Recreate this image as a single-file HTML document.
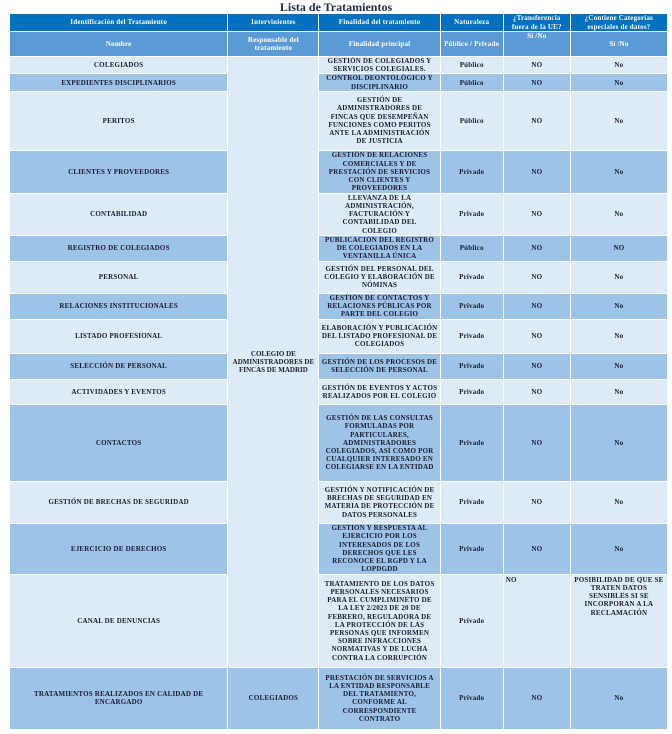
<!DOCTYPE html>
<html><head><meta charset="utf-8"><style>
body{margin:0;background:#fff;width:672px;height:734px;overflow:hidden;font-family:"Liberation Serif",serif;}
.t{position:absolute;left:0;top:0;width:672px;text-align:center;font-weight:bold;font-size:12px;color:#1f2a44;line-height:14px;}
table{position:absolute;left:9px;top:13px;border-collapse:collapse;table-layout:fixed;width:659px;}
td{border:1.5px solid #fff;text-align:center;vertical-align:middle;font-weight:bold;font-size:7px;line-height:8.2px;letter-spacing:0.2px;color:#1a1a33;padding:0 3px;overflow:hidden;}
.h1 td{background:#0070c0;color:#fff;padding:0 2px;}
.h2 td{background:#5b9bd5;color:#fff;padding:0 2px;}
.l td{background:#ddebf7;}
.m td{background:#9dc3e6;}
td.li{background:#ddebf7 !important;}
</style></head><body>
<div class="t">Lista de Tratamientos</div>
<table>
<colgroup><col style="width:218px"><col style="width:91px"><col style="width:121px"><col style="width:63px"><col style="width:67px"><col style="width:97px"></colgroup>
<tr class="h1" style="height:18px"><td>Identificación del Tratamiento</td><td>Intervinientes</td><td>Finalidad del tratamiento</td><td>Naturaleza</td><td>¿Transferencia fuera de la UE?</td><td>¿Contiene Categorías especiales de datos?</td></tr>
<tr class="h2" style="height:25px"><td>Nombre</td><td style="padding:0 8px">Responsable del tratamiento</td><td>Finalidad principal</td><td>Público / Privado</td><td style="vertical-align:top">Sí /No</td><td>Sí /No</td></tr>
<tr class="l" style="height:17px"><td>COLEGIADOS</td><td class="li" rowspan="15" style="padding:0 1px;letter-spacing:0">COLEGIO DE ADMINISTRADORES DE FINCAS DE MADRID</td><td style="padding:0 2px">GESTIÓN DE COLEGIADOS Y SERVICIOS COLEGIALES.</td><td>Público</td><td>NO</td><td>No</td></tr>
<tr class="m" style="height:17px"><td>EXPEDIENTES DISCIPLINARIOS</td><td style="padding:0 6px">CONTROL DEONTOLÓGICO Y DISCIPLINARIO</td><td>Público</td><td>NO</td><td>No</td></tr>
<tr class="l" style="height:59px"><td>PERITOS</td><td style="padding:0 6px">GESTIÓN DE ADMINISTRADORES DE FINCAS QUE DESEMPEÑAN FUNCIONES COMO PERITOS ANTE LA ADMINISTRACIÓN DE JUSTICIA</td><td>Público</td><td>NO</td><td>No</td></tr>
<tr class="m" style="height:43px"><td>CLIENTES Y PROVEEDORES</td><td style="padding:0 5px">GESTIÓN DE RELACIONES COMERCIALES Y DE PRESTACIÓN DE SERVICIOS CON CLIENTES Y PROVEEDORES</td><td>Privado</td><td>NO</td><td>No</td></tr>
<tr class="l" style="height:42px"><td>CONTABILIDAD</td><td style="padding:0 6px">LLEVANZA DE LA ADMINISTRACIÓN, FACTURACIÓN Y CONTABILIDAD DEL COLEGIO</td><td>Privado</td><td>NO</td><td>No</td></tr>
<tr class="m" style="height:26px"><td>REGISTRO DE COLEGIADOS</td><td style="padding:0 1px">PUBLICACIÓN DEL REGISTRO DE COLEGIADOS EN LA VENTANILLA ÚNICA</td><td>Público</td><td>NO</td><td>NO</td></tr>
<tr class="l" style="height:32px"><td>PERSONAL</td><td style="padding:0 1px">GESTIÓN DEL PERSONAL DEL COLEGIO Y ELABORACIÓN DE NÓMINAS</td><td>Privado</td><td>NO</td><td>No</td></tr>
<tr class="m" style="height:26px"><td>RELACIONES INSTITUCIONALES</td><td style="padding:0 1px">GESTIÓN DE CONTACTOS Y RELACIONES PÚBLICAS POR PARTE DEL COLEGIO</td><td>Privado</td><td>NO</td><td>No</td></tr>
<tr class="l" style="height:34px"><td>LISTADO PROFESIONAL</td><td style="padding:0 1px">ELABORACIÓN Y PUBLICACIÓN DEL LISTADO PROFESIONAL DE COLEGIADOS</td><td>Privado</td><td>NO</td><td>No</td></tr>
<tr class="m" style="height:26px"><td>SELECCIÓN DE PERSONAL</td><td style="padding:0 1px">GESTIÓN DE LOS PROCESOS DE SELECCIÓN DE PERSONAL</td><td>Privado</td><td>NO</td><td>No</td></tr>
<tr class="l" style="height:25px"><td>ACTIVIDADES Y EVENTOS</td><td style="padding:0 1px">GESTIÓN DE EVENTOS Y ACTOS REALIZADOS POR EL COLEGIO</td><td>Privado</td><td>NO</td><td>No</td></tr>
<tr class="m" style="height:77px"><td>CONTACTOS</td><td style="padding:0 6px">GESTIÓN DE LAS CONSULTAS FORMULADAS POR PARTICULARES, ADMINISTRADORES COLEGIADOS, ASÍ COMO POR CUALQUIER INTERESADO EN COLEGIARSE EN LA ENTIDAD</td><td>Privado</td><td>NO</td><td>No</td></tr>
<tr class="l" style="height:42px"><td>GESTIÓN DE BRECHAS DE SEGURIDAD</td><td style="padding:0 1px">GESTIÓN Y NOTIFICACIÓN DE BRECHAS DE SEGURIDAD EN MATERIA DE PROTECCIÓN DE DATOS PERSONALES</td><td>Privado</td><td>NO</td><td>No</td></tr>
<tr class="m" style="height:51px"><td>EJERCICIO DE DERECHOS</td><td style="padding:0 8px">GESTIÓN Y RESPUESTA AL EJERCICIO POR LOS INTERESADOS DE LOS DERECHOS QUE LES RECONOCE EL RGPD Y LA LOPDGDD</td><td>Privado</td><td>NO</td><td>No</td></tr>
<tr class="l" style="height:93px"><td>CANAL DE DENUNCIAS</td><td style="padding:0 5px">TRATAMIENTO DE LOS DATOS PERSONALES NECESARIOS PARA EL CUMPLIMINETO DE LA LEY 2/2023 DE 20 DE FEBRERO, REGULADORA DE LA PROTECCIÓN DE LAS PERSONAS QUE INFORMEN SOBRE INFRACCIONES NORMATIVAS Y DE LUCHA CONTRA LA CORRUPCIÓN</td><td>Privado</td><td style="vertical-align:top;text-align:left;padding:1px 2px 0">NO</td><td style="vertical-align:top;padding:1px 2px 0">POSIBILIDAD DE QUE SE TRATEN DATOS SENSIBLES SI SE INCORPORAN A LA RECLAMACIÓN</td></tr>
<tr class="m" style="height:62px"><td style="padding:0 20px">TRATAMIENTOS REALIZADOS EN CALIDAD DE ENCARGADO</td><td>COLEGIADOS</td><td style="padding:0 4px">PRESTACIÓN DE SERVICIOS A LA ENTIDAD RESPONSABLE DEL TRATAMIENTO, CONFORME AL CORRESPONDIENTE CONTRATO</td><td>Privado</td><td>NO</td><td>No</td></tr>
</table>
</body></html>
